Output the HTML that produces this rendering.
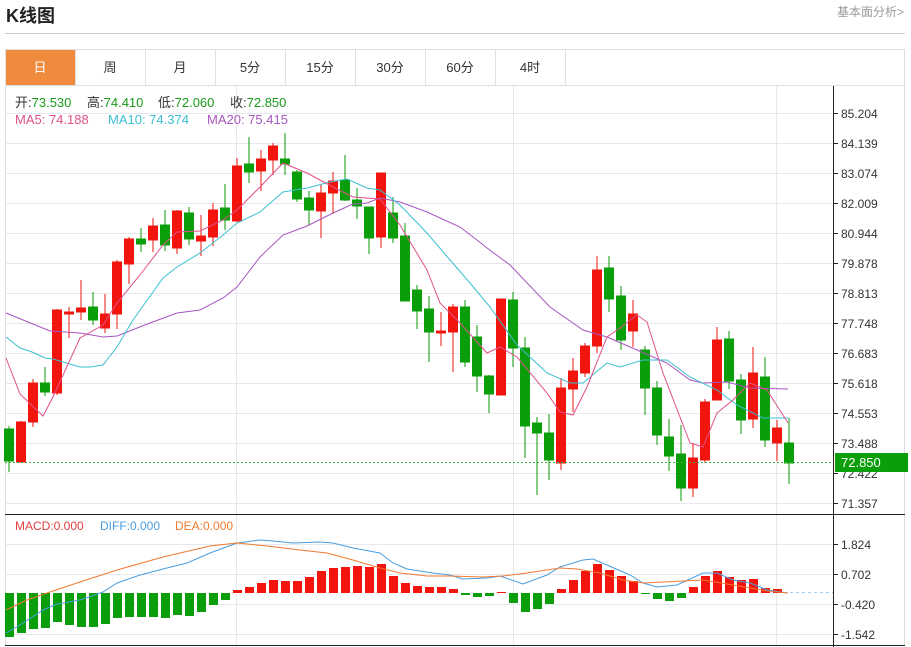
<!DOCTYPE html>
<html><head><meta charset="utf-8"><style>
body{margin:0;background:#fff;width:911px;height:647px;overflow:hidden;font-family:"Liberation Sans","Noto Sans CJK SC",sans-serif;}
</style></head><body>
<svg width="911" height="647" xmlns="http://www.w3.org/2000/svg" style="position:absolute;left:0;top:0;font-family:'Liberation Sans','Noto Sans CJK SC',sans-serif">
<text x="6" y="22" font-size="18" font-weight="bold" fill="#222">K线图</text>
<text x="904" y="16" font-size="12" fill="#999" text-anchor="end">基本面分析&gt;</text>
<line x1="5" y1="33.5" x2="905" y2="33.5" stroke="#ccc"/>
<rect x="5.5" y="49.5" width="899" height="36" fill="#fff" stroke="#e0e0e0"/>
<rect x="6" y="50" width="69" height="35" fill="#f08a3c"/>
<g stroke="#e0e0e0"><line x1="75.5" y1="50" x2="75.5" y2="85"/><line x1="145.5" y1="50" x2="145.5" y2="85"/><line x1="215.5" y1="50" x2="215.5" y2="85"/><line x1="285.5" y1="50" x2="285.5" y2="85"/><line x1="355.5" y1="50" x2="355.5" y2="85"/><line x1="425.5" y1="50" x2="425.5" y2="85"/><line x1="495.5" y1="50" x2="495.5" y2="85"/><line x1="565.5" y1="50" x2="565.5" y2="85"/></g>
<g font-size="13" text-anchor="middle" fill="#333"><text x="40" y="72" fill="#fff">日</text><text x="110" y="72">周</text><text x="180" y="72">月</text><text x="250" y="72">5分</text><text x="320" y="72">15分</text><text x="390" y="72">30分</text><text x="460" y="72">60分</text><text x="530" y="72">4时</text></g>
<line x1="5.5" y1="86" x2="5.5" y2="645" stroke="#ddd"/>
<line x1="904.5" y1="86" x2="904.5" y2="645" stroke="#ddd"/>
<g stroke="#e6e8ee">
<line x1="5" y1="113.5" x2="833" y2="113.5"/><line x1="5" y1="143.5" x2="833" y2="143.5"/><line x1="5" y1="173.5" x2="833" y2="173.5"/><line x1="5" y1="203.5" x2="833" y2="203.5"/><line x1="5" y1="233.5" x2="833" y2="233.5"/><line x1="5" y1="263.5" x2="833" y2="263.5"/><line x1="5" y1="293.5" x2="833" y2="293.5"/><line x1="5" y1="323.5" x2="833" y2="323.5"/><line x1="5" y1="353.5" x2="833" y2="353.5"/><line x1="5" y1="383.5" x2="833" y2="383.5"/><line x1="5" y1="413.5" x2="833" y2="413.5"/><line x1="5" y1="443.5" x2="833" y2="443.5"/><line x1="5" y1="473.5" x2="833" y2="473.5"/><line x1="5" y1="503.5" x2="833" y2="503.5"/>
<line x1="5" y1="544.5" x2="833" y2="544.5"/><line x1="5" y1="574.5" x2="833" y2="574.5"/><line x1="5" y1="604.5" x2="833" y2="604.5"/><line x1="5" y1="634.5" x2="833" y2="634.5"/>
<line x1="236.5" y1="86" x2="236.5" y2="645"/><line x1="513.5" y1="86" x2="513.5" y2="645"/><line x1="776.5" y1="86" x2="776.5" y2="645"/>
</g>
<line x1="833.5" y1="86" x2="833.5" y2="647" stroke="#222"/>
<line x1="5" y1="514.5" x2="905" y2="514.5" stroke="#222"/>
<line x1="5" y1="645.5" x2="905" y2="645.5" stroke="#222"/>
<g stroke="#222"><line x1="833" y1="113.5" x2="838" y2="113.5"/><line x1="833" y1="143.5" x2="838" y2="143.5"/><line x1="833" y1="173.5" x2="838" y2="173.5"/><line x1="833" y1="203.5" x2="838" y2="203.5"/><line x1="833" y1="233.5" x2="838" y2="233.5"/><line x1="833" y1="263.5" x2="838" y2="263.5"/><line x1="833" y1="293.5" x2="838" y2="293.5"/><line x1="833" y1="323.5" x2="838" y2="323.5"/><line x1="833" y1="353.5" x2="838" y2="353.5"/><line x1="833" y1="383.5" x2="838" y2="383.5"/><line x1="833" y1="413.5" x2="838" y2="413.5"/><line x1="833" y1="443.5" x2="838" y2="443.5"/><line x1="833" y1="473.5" x2="838" y2="473.5"/><line x1="833" y1="503.5" x2="838" y2="503.5"/><line x1="833" y1="544.5" x2="838" y2="544.5"/><line x1="833" y1="574.5" x2="838" y2="574.5"/><line x1="833" y1="604.5" x2="838" y2="604.5"/><line x1="833" y1="634.5" x2="838" y2="634.5"/></g>
<g font-size="12" fill="#333">
<text x="841" y="118">85.204</text><text x="841" y="148">84.139</text><text x="841" y="178">83.074</text><text x="841" y="208">82.009</text><text x="841" y="238">80.944</text><text x="841" y="268">79.878</text><text x="841" y="298">78.813</text><text x="841" y="328">77.748</text><text x="841" y="358">76.683</text><text x="841" y="388">75.618</text><text x="841" y="418">74.553</text><text x="841" y="448">73.488</text><text x="841" y="478">72.422</text><text x="841" y="508">71.357</text>
<text x="841" y="549">1.824</text><text x="841" y="579">0.702</text><text x="841" y="609">-0.420</text><text x="841" y="639">-1.542</text>
</g>
<g font-size="13">
<text x="15" y="107" fill="#333">开:<tspan fill="#1a9a1a">73.530</tspan></text>
<text x="87" y="107" fill="#333">高:<tspan fill="#1a9a1a">74.410</tspan></text>
<text x="158" y="107" fill="#333">低:<tspan fill="#1a9a1a">72.060</tspan></text>
<text x="230" y="107" fill="#333">收:<tspan fill="#1a9a1a">72.850</tspan></text>
<text x="15" y="124" fill="#e0508a">MA5: 74.188</text>
<text x="108" y="124" fill="#3bbfd0">MA10: 74.374</text>
<text x="207" y="124" fill="#a855c0">MA20: 75.415</text>
<text x="15" y="530" fill="#e04040" font-size="12">MACD:0.000</text>
<text x="100" y="530" fill="#4a9ee0" font-size="12">DIFF:0.000</text>
<text x="175" y="530" fill="#f07a30" font-size="12">DEA:0.000</text>
</g>
<g stroke-width="1">
<g stroke="#0a9e0a" fill="#0a9e0a">
<line x1="9" y1="426" x2="9" y2="472"/><rect x="4.5" y="429" width="9" height="32"/>
<line x1="45" y1="367" x2="45" y2="396"/><rect x="40.5" y="383" width="9" height="9"/>
<line x1="93" y1="292" x2="93" y2="325"/><rect x="88.5" y="307" width="9" height="13"/>
<line x1="141" y1="228" x2="141" y2="252"/><rect x="136.5" y="239" width="9" height="5"/>
<line x1="165" y1="210" x2="165" y2="251"/><rect x="160.5" y="225" width="9" height="20"/>
<line x1="189" y1="207" x2="189" y2="245"/><rect x="184.5" y="213" width="9" height="26"/>
<line x1="225" y1="184" x2="225" y2="230"/><rect x="220.5" y="208" width="9" height="12"/>
<line x1="249" y1="137" x2="249" y2="183"/><rect x="244.5" y="164" width="9" height="8"/>
<line x1="285" y1="133" x2="285" y2="175"/><rect x="280.5" y="159" width="9" height="5"/>
<line x1="297" y1="170" x2="297" y2="202"/><rect x="292.5" y="172" width="9" height="27"/>
<line x1="309" y1="191" x2="309" y2="225"/><rect x="304.5" y="198" width="9" height="12"/>
<line x1="345" y1="155" x2="345" y2="201"/><rect x="340.5" y="180" width="9" height="20"/>
<line x1="357" y1="188" x2="357" y2="219"/><rect x="352.5" y="200" width="9" height="6"/>
<line x1="369" y1="207" x2="369" y2="254"/><rect x="364.5" y="207" width="9" height="31"/>
<line x1="393" y1="197" x2="393" y2="243"/><rect x="388.5" y="213" width="9" height="25"/>
<line x1="405" y1="223" x2="405" y2="301"/><rect x="400.5" y="236" width="9" height="65"/>
<line x1="417" y1="285" x2="417" y2="329"/><rect x="412.5" y="290" width="9" height="21"/>
<line x1="429" y1="296" x2="429" y2="362"/><rect x="424.5" y="309" width="9" height="23"/>
<line x1="465" y1="300" x2="465" y2="367"/><rect x="460.5" y="307" width="9" height="55"/>
<line x1="477" y1="325" x2="477" y2="392"/><rect x="472.5" y="337" width="9" height="39"/>
<line x1="489" y1="375" x2="489" y2="413"/><rect x="484.5" y="376" width="9" height="18"/>
<line x1="513" y1="292" x2="513" y2="367"/><rect x="508.5" y="300" width="9" height="48"/>
<line x1="525" y1="337" x2="525" y2="458"/><rect x="520.5" y="348" width="9" height="78"/>
<line x1="537" y1="417" x2="537" y2="495"/><rect x="532.5" y="423" width="9" height="10"/>
<line x1="549" y1="414" x2="549" y2="480"/><rect x="544.5" y="433" width="9" height="27"/>
<line x1="609" y1="256" x2="609" y2="312"/><rect x="604.5" y="268" width="9" height="31"/>
<line x1="621" y1="286" x2="621" y2="350"/><rect x="616.5" y="296" width="9" height="44"/>
<line x1="645" y1="346" x2="645" y2="415"/><rect x="640.5" y="350" width="9" height="38"/>
<line x1="657" y1="381" x2="657" y2="445"/><rect x="652.5" y="388" width="9" height="47"/>
<line x1="669" y1="419" x2="669" y2="471"/><rect x="664.5" y="437" width="9" height="19"/>
<line x1="681" y1="425" x2="681" y2="501"/><rect x="676.5" y="454" width="9" height="34"/>
<line x1="729" y1="331" x2="729" y2="389"/><rect x="724.5" y="339" width="9" height="42"/>
<line x1="741" y1="374" x2="741" y2="434"/><rect x="736.5" y="380" width="9" height="40"/>
<line x1="765" y1="357" x2="765" y2="447"/><rect x="760.5" y="377" width="9" height="63"/>
<line x1="789" y1="418" x2="789" y2="484"/><rect x="784.5" y="443" width="9" height="20"/>
</g>
<g stroke="#f2150d" fill="#f2150d">
<line x1="21" y1="421" x2="21" y2="463"/><rect x="16.5" y="422" width="9" height="40"/>
<line x1="33" y1="379" x2="33" y2="427"/><rect x="28.5" y="383" width="9" height="39"/>
<line x1="57" y1="309" x2="57" y2="395"/><rect x="52.5" y="310" width="9" height="83"/>
<line x1="69" y1="307" x2="69" y2="338"/><rect x="64.5" y="312" width="9" height="2"/>
<line x1="81" y1="280" x2="81" y2="320"/><rect x="76.5" y="308" width="9" height="4"/>
<line x1="105" y1="294" x2="105" y2="333"/><rect x="100.5" y="314" width="9" height="14"/>
<line x1="117" y1="260" x2="117" y2="329"/><rect x="112.5" y="262" width="9" height="52"/>
<line x1="129" y1="237" x2="129" y2="284"/><rect x="124.5" y="239" width="9" height="25"/>
<line x1="153" y1="218" x2="153" y2="252"/><rect x="148.5" y="226" width="9" height="14"/>
<line x1="177" y1="210" x2="177" y2="254"/><rect x="172.5" y="211" width="9" height="37"/>
<line x1="201" y1="215" x2="201" y2="256"/><rect x="196.5" y="236" width="9" height="5"/>
<line x1="213" y1="203" x2="213" y2="246"/><rect x="208.5" y="210" width="9" height="27"/>
<line x1="237" y1="158" x2="237" y2="222"/><rect x="232.5" y="166" width="9" height="55"/>
<line x1="261" y1="150" x2="261" y2="191"/><rect x="256.5" y="159" width="9" height="12"/>
<line x1="273" y1="143" x2="273" y2="175"/><rect x="268.5" y="146" width="9" height="14"/>
<line x1="321" y1="185" x2="321" y2="238"/><rect x="316.5" y="193" width="9" height="18"/>
<line x1="333" y1="172" x2="333" y2="214"/><rect x="328.5" y="181" width="9" height="12"/>
<line x1="381" y1="173" x2="381" y2="248"/><rect x="376.5" y="173" width="9" height="64"/>
<line x1="441" y1="312" x2="441" y2="346"/><rect x="436.5" y="331" width="9" height="2"/>
<line x1="453" y1="304" x2="453" y2="372"/><rect x="448.5" y="307" width="9" height="25"/>
<line x1="501" y1="299" x2="501" y2="395"/><rect x="496.5" y="299" width="9" height="96"/>
<line x1="561" y1="378" x2="561" y2="470"/><rect x="556.5" y="388" width="9" height="75"/>
<line x1="573" y1="358" x2="573" y2="412"/><rect x="568.5" y="371" width="9" height="18"/>
<line x1="585" y1="343" x2="585" y2="377"/><rect x="580.5" y="346" width="9" height="27"/>
<line x1="597" y1="256" x2="597" y2="353"/><rect x="592.5" y="270" width="9" height="76"/>
<line x1="633" y1="300" x2="633" y2="347"/><rect x="628.5" y="314" width="9" height="17"/>
<line x1="693" y1="443" x2="693" y2="497"/><rect x="688.5" y="458" width="9" height="30"/>
<line x1="705" y1="399" x2="705" y2="463"/><rect x="700.5" y="402" width="9" height="58"/>
<line x1="717" y1="327" x2="717" y2="400"/><rect x="712.5" y="340" width="9" height="60"/>
<line x1="753" y1="347" x2="753" y2="428"/><rect x="748.5" y="373" width="9" height="46"/>
<line x1="777" y1="420" x2="777" y2="461"/><rect x="772.5" y="428" width="9" height="15"/>
</g>
</g>
<polyline fill="none" stroke="#a855c0" stroke-width="1" points="6,313 50,331 80,333 103,337 117,336 150,323 177,313 200,310 223,298 237,287 260,257 283,235 307,226 333,213 353,204 367,203 380,198 400,202 427,212 460,227 477,240 487,248 510,265 550,307 583,330 607,337 637,350 667,363 690,380 703,383 727,382 750,388 788,389"/>
<polyline fill="none" stroke="#3bbfd0" stroke-width="1" points="6,337 20,348 32,352 45,358 53,359 80,367 90,367 103,365 117,347 133,320 163,278 177,267 200,253 223,235 237,223 260,212 283,192 307,188 330,182 347,179 367,188 380,190 400,205 427,233 450,260 470,283 490,307 517,345 547,373 570,383 583,383 607,363 620,367 643,360 667,360 690,377 717,390 737,405 763,418 788,418"/>
<polyline fill="none" stroke="#e0508a" stroke-width="1" points="6,358 20,394 43,416 53,397 80,338 103,325 117,303 140,275 163,245 177,232 200,231 223,220 237,210 260,187 283,163 307,173 333,187 353,197 380,199 400,225 427,270 440,303 460,323 487,353 500,347 517,357 547,393 560,412 573,415 587,387 607,337 620,328 637,315 647,322 663,373 690,443 703,447 717,413 733,400 750,383 767,390 788,423"/>
<line x1="5" y1="462.5" x2="833" y2="462.5" stroke="#3cb43c" stroke-dasharray="2,2"/>
<rect x="835" y="453" width="73" height="19" fill="#0a9e0a"/>
<text x="841" y="467" font-size="13" fill="#fff">72.850</text>
<g fill="#0a9e0a">
<rect x="5" y="593" width="9" height="44"/><rect x="17" y="593" width="9" height="40"/><rect x="29" y="593" width="9" height="36"/><rect x="41" y="593" width="9" height="35"/><rect x="53" y="593" width="9" height="29"/><rect x="65" y="593" width="9" height="32"/><rect x="77" y="593" width="9" height="34"/><rect x="89" y="593" width="9" height="34"/><rect x="101" y="593" width="9" height="31"/><rect x="113" y="593" width="9" height="25"/><rect x="125" y="593" width="9" height="24"/><rect x="137" y="593" width="9" height="24"/><rect x="149" y="593" width="9" height="24"/><rect x="161" y="593" width="9" height="25"/><rect x="173" y="593" width="9" height="22"/><rect x="185" y="593" width="9" height="23"/><rect x="197" y="593" width="9" height="19"/><rect x="209" y="593" width="9" height="12"/><rect x="221" y="593" width="9" height="7"/>
<rect x="461" y="593" width="9" height="2"/><rect x="473" y="593" width="9" height="4"/><rect x="485" y="593" width="9" height="3"/><rect x="509" y="593" width="9" height="10"/><rect x="521" y="593" width="9" height="19"/><rect x="533" y="593" width="9" height="16"/><rect x="545" y="593" width="9" height="11"/><rect x="641" y="593" width="9" height="1"/><rect x="653" y="593" width="9" height="6"/><rect x="665" y="593" width="9" height="8"/><rect x="677" y="593" width="9" height="5"/>
</g>
<g fill="#f2150d">
<rect x="233" y="590" width="9" height="3"/><rect x="245" y="587" width="9" height="6"/><rect x="257" y="583" width="9" height="10"/><rect x="269" y="580" width="9" height="13"/><rect x="281" y="581" width="9" height="12"/><rect x="293" y="581" width="9" height="12"/><rect x="305" y="577" width="9" height="16"/><rect x="317" y="571" width="9" height="22"/><rect x="329" y="568" width="9" height="25"/><rect x="341" y="567" width="9" height="26"/><rect x="353" y="566" width="9" height="27"/><rect x="365" y="567" width="9" height="26"/><rect x="377" y="564" width="9" height="29"/><rect x="389" y="576" width="9" height="17"/><rect x="401" y="583" width="9" height="10"/><rect x="413" y="586" width="9" height="7"/><rect x="425" y="587" width="9" height="6"/><rect x="437" y="587" width="9" height="6"/><rect x="449" y="589" width="9" height="4"/>
<rect x="497" y="592" width="9" height="1"/><rect x="557" y="589" width="9" height="4"/><rect x="569" y="580" width="9" height="13"/><rect x="581" y="571" width="9" height="22"/><rect x="593" y="564" width="9" height="29"/><rect x="605" y="570" width="9" height="23"/><rect x="617" y="576" width="9" height="17"/><rect x="629" y="581" width="9" height="12"/>
<rect x="689" y="587" width="9" height="6"/><rect x="701" y="576" width="9" height="17"/><rect x="713" y="571" width="9" height="22"/><rect x="725" y="577" width="9" height="16"/><rect x="737" y="580" width="9" height="13"/><rect x="749" y="579" width="9" height="14"/><rect x="761" y="588" width="9" height="5"/><rect x="773" y="589" width="9" height="4"/>
</g>
<line x1="790" y1="592.5" x2="833" y2="592.5" stroke="#9cd0f0" stroke-dasharray="3,3"/>
<polyline fill="none" stroke="#4a9ee0" stroke-width="1" points="6,633 20,625 43,610 57,604 80,600 103,592 117,583 140,575 163,569 187,563 210,553 237,543 260,540 273,541 293,543 320,542 333,543 353,548 380,553 393,563 407,569 433,573 450,575 463,579 487,578 500,576 523,584 547,575 560,567 583,560 593,559 607,565 630,575 643,583 657,587 677,585 703,573 717,573 733,580 750,583 767,590 788,593"/>
<polyline fill="none" stroke="#f07a30" stroke-width="1" points="6,610 27,600 50,592 80,582 117,570 163,557 210,546 237,543 267,546 300,550 327,553 353,560 380,568 400,573 427,576 450,576 483,577 503,576 527,573 560,568 577,569 600,573 623,580 643,583 683,581 703,580 733,585 767,591 788,593"/>
</svg>
</body></html>
